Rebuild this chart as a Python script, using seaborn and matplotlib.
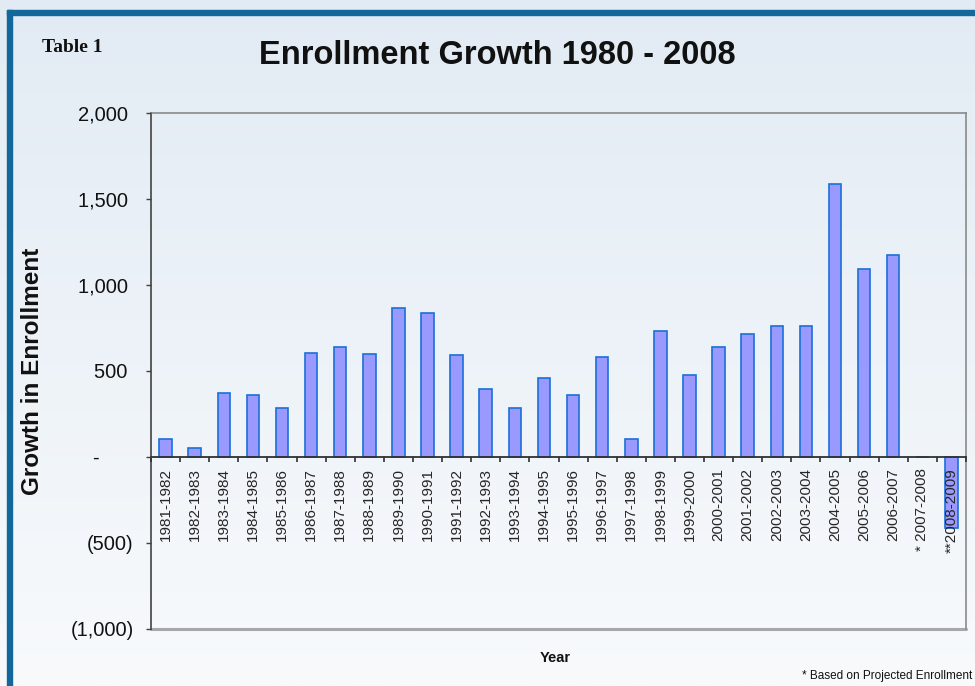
import numpy as np
import pandas as pd
import seaborn as sns
import matplotlib.pyplot as plt
from matplotlib.colors import LinearSegmentedColormap
from matplotlib.patches import Rectangle

# Academic years and the change in enrollment for each
years = ["1981-1982", "1982-1983", "1983-1984", "1984-1985", "1985-1986",
         "1986-1987", "1987-1988", "1988-1989", "1989-1990", "1990-1991",
         "1991-1992", "1992-1993", "1993-1994", "1994-1995", "1995-1996",
         "1996-1997", "1997-1998", "1998-1999", "1999-2000", "2000-2001",
         "2001-2002", "2002-2003", "2003-2004", "2004-2005", "2005-2006",
         "2006-2007", "* 2007-2008", "**2008-2009"]
growth = [102, 55, 372, 360, 286, 605, 640, 600, 864, 835,
          592, 398, 287, 458, 359, 584, 104, 733, 477, 640,
          715, 762, 762, 1587, 1093, 1174, 0, -413]

y_ticks = [2000, 1500, 1000, 500, 0, -500, -1000]
y_tick_labels = ["2,000 ", "1,500 ", "1,000 ", "500 ", "-      ", "(500)", "(1,000)"]

sns.set_theme(style="white")
plt.rcParams["font.family"] = ["Liberation Sans", "DejaVu Sans"]

W, H = 975, 686
fig = plt.figure(figsize=(W / 100, H / 100), dpi=100)

# soft vertical gradient behind everything
bg = fig.add_axes([0, 0, 1, 1], zorder=-10)
grad = np.linspace(0, 1, 256).reshape(-1, 1)
cmap = LinearSegmentedColormap.from_list("bg", ["#e2ebf4", "#f8fafc"])
bg.imshow(grad, aspect="auto", cmap=cmap, extent=[0, 1, 0, 1], origin="upper")
bg.axis("off")

# frame in dark blue along the left and top
frame_col = "#12679b"
fig.patches.append(Rectangle((7 / W, 0), 5 / W, (H - 10) / H,
                             transform=fig.transFigure, color=frame_col, zorder=-5))
fig.patches.append(Rectangle((7 / W, (H - 15) / H), 1, 5 / H,
                             transform=fig.transFigure, color=frame_col, zorder=-5))

ax = fig.add_axes([151 / W, 1 - 629 / H, (966 - 151) / W, (629 - 113) / H])
ax.patch.set_alpha(0)

df = pd.DataFrame({"Year": years, "Growth": growth})
sns.barplot(data=df, x="Year", y="Growth", ax=ax, color="#9999ff",
            edgecolor="#1a6fd8", linewidth=1.2, width=0.43, saturation=1)
# axis line and tick labels sit on top of the bars
ax.set_axisbelow(False)

ax.set_ylim(-1000, 2000)
ax.set_xlim(-0.5, len(years) - 0.5)
ax.set_yticks(y_ticks)
ax.set_yticklabels(y_tick_labels, fontsize=14.5, color="#111111")
ax.tick_params(axis="y", direction="out", length=3.6, width=1, color="#404040",
               pad=9, left=True)

# category labels at bar centres, tick marks between categories
ax.set_xticks(range(len(years)))
ax.set_xticks(np.arange(-0.5, len(years), 1.0), minor=True)
ax.set_xticklabels(years, fontsize=11, color="#111111")
ax.tick_params(axis="x", which="major", length=0, pad=8, bottom=True,
               labelrotation=90)
ax.tick_params(axis="x", which="minor", direction="out", length=3.6, width=1.2,
               color="#303030", bottom=True)
for lbl in ax.get_xticklabels():
    lbl.set_rotation(90)
    lbl.set_ha("center")
    lbl.set_va("top")

ax.spines["bottom"].set_position(("data", 0))
ax.spines["bottom"].set_color("#303030")
ax.spines["bottom"].set_linewidth(1.3)
ax.spines["left"].set_color("#505050")
ax.spines["left"].set_linewidth(1.3)
for s in ("top", "right"):
    ax.spines[s].set_visible(True)
    ax.spines[s].set_color("#8a8a8a")
    ax.spines[s].set_linewidth(1.2)
ax.axhline(-1000, color="#a8a8a8", lw=2.2, clip_on=False, zorder=0.5)

ax.set_xlabel("")
ax.set_ylabel("")

fig.text(33 / W, 1 - 371 / H, "Growth in Enrollment", rotation=90, ha="center",
         va="center", fontsize=17.5, fontweight="bold", color="#111111")
fig.text(497 / W, 1 - 55 / H, "Enrollment Growth 1980 - 2008", ha="center",
         va="center", fontsize=23.5, fontweight="bold", color="#111111")
fig.text(72 / W, 1 - 47 / H, "Table 1", ha="center", va="center",
         fontsize=14, fontweight="bold", family=["Liberation Serif", "DejaVu Serif"],
         color="#111111")
fig.text(555 / W, 1 - 658 / H, "Year", ha="center", va="center",
         fontsize=10.5, fontweight="bold", color="#111111")
fig.text(972 / W, 1 - 676 / H, "* Based on Projected Enrollment", ha="right",
         va="center", fontsize=8.5, color="#111111")

fig.savefig("out.png", dpi=100)
